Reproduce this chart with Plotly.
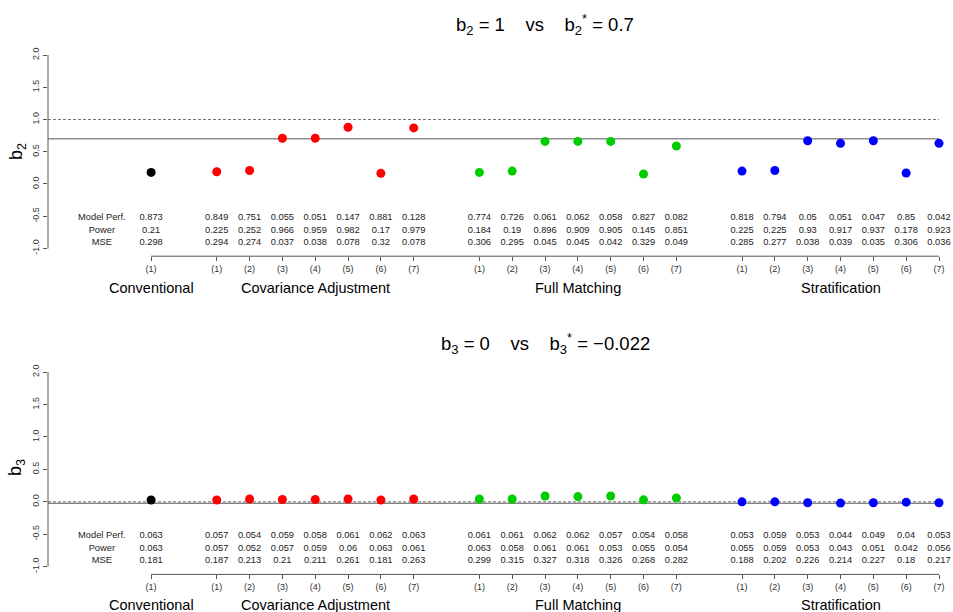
import plotly.graph_objects as go

# ---------------- data ----------------
groups = ["Conventional", "Covariance Adjustment", "Full Matching", "Stratification"]
group_sizes = [1, 7, 7, 7]
group_colors = ["#000000", "#FF0000", "#00CD00", "#0000FF"]
row_labels = ["Model Perf.", "Power", "MSE"]

# panel 1: b2 (true 1, b* 0.7)
b2_true = 1.0
b2_star = 0.7
b2_conv = [0.18]
b2_cov = [0.19, 0.21, 0.71, 0.71, 0.88, 0.165, 0.87]
b2_fm = [0.18, 0.20, 0.66, 0.66, 0.66, 0.155, 0.59]
b2_strat = [0.20, 0.21, 0.67, 0.63, 0.67, 0.17, 0.63]
b2_perf = ["0.873", "0.849", "0.751", "0.055", "0.051", "0.147", "0.881", "0.128",
           "0.774", "0.726", "0.061", "0.062", "0.058", "0.827", "0.082",
           "0.818", "0.794", "0.05", "0.051", "0.047", "0.85", "0.042"]
b2_power = ["0.21", "0.225", "0.252", "0.966", "0.959", "0.982", "0.17", "0.979",
            "0.184", "0.19", "0.896", "0.909", "0.905", "0.145", "0.851",
            "0.225", "0.225", "0.93", "0.917", "0.937", "0.178", "0.923"]
b2_mse = ["0.298", "0.294", "0.274", "0.037", "0.038", "0.078", "0.32", "0.078",
          "0.306", "0.295", "0.045", "0.045", "0.042", "0.329", "0.049",
          "0.285", "0.277", "0.038", "0.039", "0.035", "0.306", "0.036"]

# panel 2: b3 (true 0, b* -0.022)
b3_true = 0.0
b3_star = -0.022
b3_conv = [0.028]
b3_cov = [0.028, 0.043, 0.035, 0.035, 0.043, 0.028, 0.043]
b3_fm = [0.043, 0.043, 0.09, 0.08, 0.09, 0.03, 0.06]
b3_strat = [0.0, 0.0, -0.015, -0.02, -0.015, -0.005, -0.015]
b3_perf = ["0.063", "0.057", "0.054", "0.059", "0.058", "0.061", "0.062", "0.063",
           "0.061", "0.061", "0.062", "0.062", "0.057", "0.054", "0.058",
           "0.053", "0.059", "0.053", "0.044", "0.049", "0.04", "0.053"]
b3_power = ["0.063", "0.057", "0.052", "0.057", "0.059", "0.06", "0.063", "0.061",
            "0.063", "0.058", "0.061", "0.061", "0.053", "0.055", "0.054",
            "0.055", "0.059", "0.053", "0.043", "0.051", "0.042", "0.056"]
b3_mse = ["0.181", "0.187", "0.213", "0.21", "0.211", "0.261", "0.181", "0.263",
          "0.299", "0.315", "0.327", "0.318", "0.326", "0.268", "0.282",
          "0.188", "0.202", "0.226", "0.214", "0.227", "0.18", "0.217"]

# ---------------- layout helpers ----------------
W, H = 953, 612
FONT = "Liberation Sans, Arial, Helvetica, sans-serif"


def px(x):  # window pixel x -> paper x
    return x / W


def py(y):  # window pixel y -> paper y
    return (H - y) / H


# x positions with one-unit gaps between groups
positions = []
group_pos = []
p = 1
for n in group_sizes:
    gp = list(range(p, p + n))
    group_pos.append(gp)
    positions += gp
    p += n + 1
tick_text = []
for n in group_sizes:
    tick_text += ["(%d)" % (k + 1) for k in range(n)]
group_centers = [sum(g) / len(g) for g in group_pos]

XRANGE = [-2.14, 25.0]
YRANGE = [-1.12, 2.12]
XDOM = [px(48), px(939)]
ROW_Y = [-0.52, -0.72, -0.915]
LABEL_X = -0.5
TABLE_SIZE = 9.3

fig = go.Figure()

panels = [
    dict(vals=[b2_conv, b2_cov, b2_fm, b2_strat], true=b2_true, star=b2_star,
         table=[b2_perf, b2_power, b2_mse], sub="2", star_txt="0.7",
         true_txt="1", xa="x", ya="y", dom=[py(256.2), py(47.3)], glab=288,
         ttl=25, ytl=152),
    dict(vals=[b3_conv, b3_cov, b3_fm, b3_strat], true=b3_true, star=b3_star,
         table=[b3_perf, b3_power, b3_mse], sub="3", star_txt="\u22120.022",
         true_txt="0", xa="x2", ya="y2", dom=[py(574.4), py(364.4)], glab=605,
         ttl=343, ytl=468),
]

NB = "\u00a0"
annotations = []
shapes = []
for pi, pn in enumerate(panels):
    xa, ya = pn["xa"], pn["ya"]
    # points
    for gi, vals in enumerate(pn["vals"]):
        fig.add_trace(go.Scatter(
            x=group_pos[gi], y=vals, mode="markers", xaxis=xa, yaxis=ya,
            marker=dict(color=group_colors[gi], size=9, line=dict(width=0)),
            cliponaxis=False, showlegend=False, hoverinfo="skip"))
    # table text
    for ri, row in enumerate(pn["table"]):
        fig.add_trace(go.Scatter(
            x=positions, y=[ROW_Y[ri]] * len(positions), mode="text", text=row,
            textfont=dict(family=FONT, size=TABLE_SIZE, color="#222"),
            xaxis=xa, yaxis=ya, cliponaxis=False, showlegend=False, hoverinfo="skip"))
        fig.add_trace(go.Scatter(
            x=[LABEL_X], y=[ROW_Y[ri]], mode="text", text=[row_labels[ri]],
            textfont=dict(family=FONT, size=TABLE_SIZE, color="#222"),
            xaxis=xa, yaxis=ya, cliponaxis=False, showlegend=False, hoverinfo="skip"))
    # reference lines
    shapes.append(dict(type="line", xref=xa + " domain", yref=ya, x0=0, x1=1,
                       y0=pn["true"], y1=pn["true"],
                       line=dict(color="#777", width=1, dash="3px,2px"), layer="below"))
    shapes.append(dict(type="line", xref=xa + " domain", yref=ya, x0=0, x1=1,
                       y0=pn["star"], y1=pn["star"],
                       line=dict(color="#555", width=1), layer="below"))
    # y axis line (-1 .. 2)
    shapes.append(dict(type="line", xref=xa + " domain", yref=ya, x0=0, x1=0,
                       y0=-1, y1=2, line=dict(color="#555", width=1)))
    # x axis line (first .. last tick)
    shapes.append(dict(type="line", xref=xa, yref=ya + " domain", x0=positions[0],
                       x1=positions[-1], y0=0, y1=0, line=dict(color="#555", width=1)))
    # group labels
    for gi, g in enumerate(groups):
        annotations.append(dict(text=g, x=group_centers[gi], xref=xa, yref="paper",
                                y=py(pn["glab"]), yanchor="middle",
                                showarrow=False,
                                font=dict(family=FONT, size=14.5, color="#000")))
    # y title
    annotations.append(dict(text="b<sub>%s</sub>" % pn["sub"], x=px(17), xref="paper",
                            y=py(pn["ytl"]), yref="paper", textangle=-90,
                            showarrow=False, xanchor="center", yanchor="middle",
                            font=dict(family=FONT, size=18, color="#000")))
    # title
    sp = NB * 4
    title = ("b<sub>%s</sub> = %s%svs%sb<sub>%s</sub><sup>*</sup> = %s"
             % (pn["sub"], pn["true_txt"], sp, sp, pn["sub"], pn["star_txt"]))
    annotations.append(dict(text=title, x=px(545), xref="paper",
                            y=py(pn["ttl"]), yref="paper",
                            xanchor="center", yanchor="middle", showarrow=False,
                            font=dict(family=FONT, size=18.5, color="#000")))

xaxis_common = dict(range=XRANGE, domain=XDOM, tickvals=positions, ticktext=tick_text,
                    ticks="outside", ticklen=4, tickcolor="#555", showline=False,
                    showgrid=False, zeroline=False, automargin=False,
                    tickfont=dict(family=FONT, size=9, color="#333"))
yaxis_common = dict(range=YRANGE, tickvals=[-1, -0.5, 0, 0.5, 1, 1.5, 2],
                    ticktext=["-1.0", "-0.5", "0.0", "0.5", "1.0", "1.5", "2.0"],
                    tickangle=-90, ticks="outside", ticklen=4, tickcolor="#555",
                    showline=False, showgrid=False, zeroline=False, automargin=False,
                    tickfont=dict(family=FONT, size=9, color="#333"))

fig.update_layout(
    width=W, height=H, margin=dict(l=0, r=0, t=0, b=0, autoexpand=False),
    paper_bgcolor="white", plot_bgcolor="white", showlegend=False,
    xaxis=dict(**xaxis_common, anchor="y"),
    yaxis=dict(**yaxis_common, domain=panels[0]["dom"], anchor="x"),
    xaxis2=dict(**xaxis_common, anchor="y2"),
    yaxis2=dict(**yaxis_common, domain=panels[1]["dom"], anchor="x2"),
    shapes=shapes, annotations=annotations,
)

# remove the default page margin so the 953x612 figure fills the window exactly
fig.write_html("out.html",
               config={"displayModeBar": False},
               post_script="document.body.style.margin='0';"
                           "document.body.style.overflow='hidden';")
